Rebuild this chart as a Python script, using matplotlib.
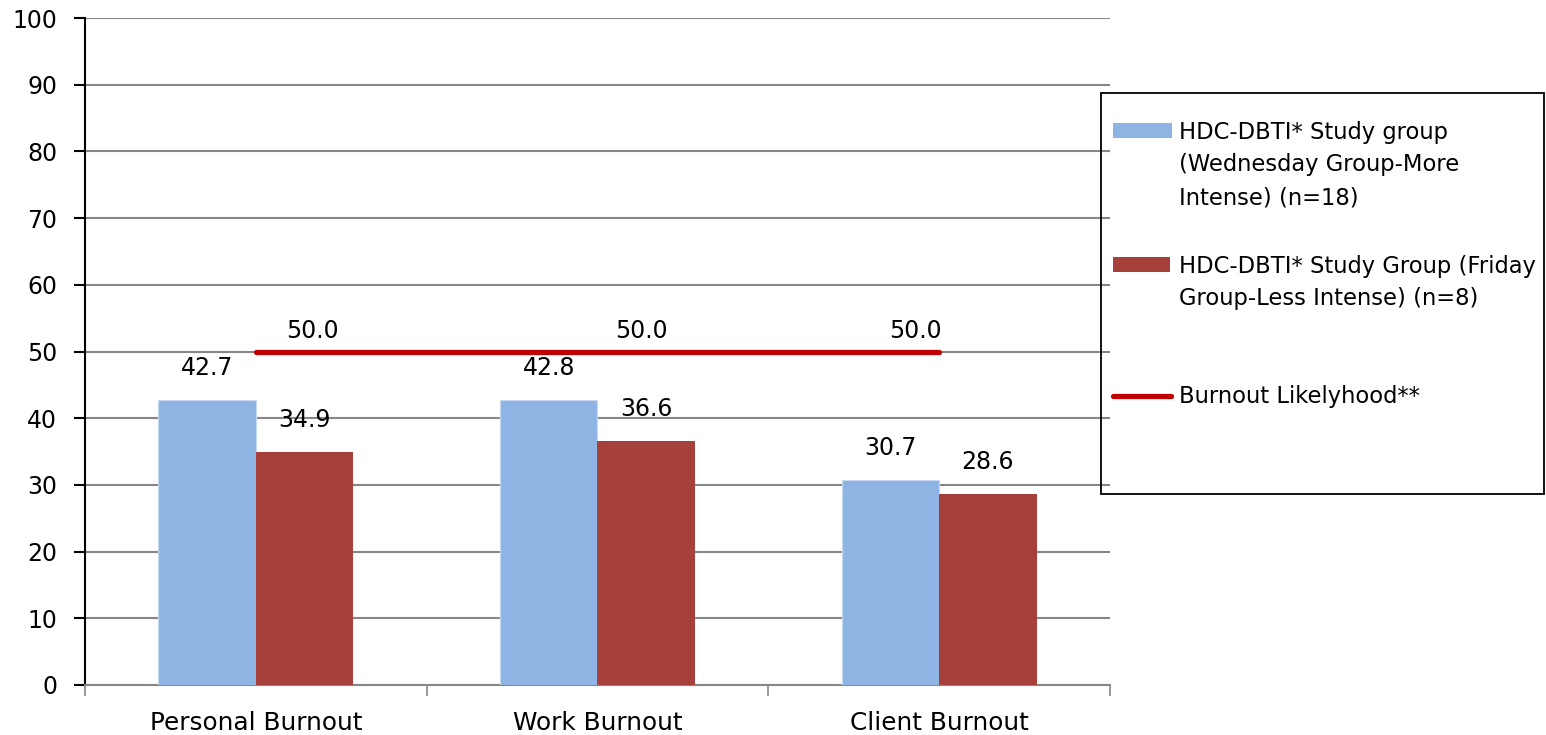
import numpy as np
import matplotlib
matplotlib.use('Agg')
from matplotlib import pyplot as plt
from matplotlib.patches import Rectangle
from matplotlib.lines import Line2D

categories = ['Personal Burnout', 'Work Burnout', 'Client Burnout']
wednesday = [42.7, 42.8, 30.7]
friday = [34.9, 36.6, 28.6]
likelihood = [50.0, 50.0, 50.0]
series_names = ['HDC-DBTI* Study group\n(Wednesday Group-More\nIntense) (n=18)',
                'HDC-DBTI* Study Group (Friday\nGroup-Less Intense) (n=8)',
                'Burnout Likelyhood**']
y_ticks = list(range(0, 101, 10))

BLUE = '#8EB4E3'
RED = '#A5403A'
LINE_RED = '#C00000'
GRID = '#878787'

plt.rcParams['font.family'] = ['DejaVu Sans']
fs = 17

fig = plt.figure(figsize=(15.46, 7.35), dpi=100)
ax = fig.add_axes([85 / 1546, 1 - 685 / 735, (1110 - 85) / 1546, (685 - 18) / 735])

x = np.arange(len(categories)) + 0.5
w = 0.285
b1 = ax.bar(x - w / 2, wednesday, w, color=BLUE, edgecolor='#C6D9F1', linewidth=0.8, zorder=3)
b2 = ax.bar(x + w / 2, friday, w, color=RED, zorder=3)
ax.plot(x, likelihood, color=LINE_RED, linewidth=3.8, solid_capstyle='round', zorder=4)

for rect, v in zip(list(b1) + list(b2), wednesday + friday):
    ax.annotate('%.1f' % v, (rect.get_x() + rect.get_width() / 2, v),
                xytext=(0, 23), textcoords='offset points', ha='center', va='center', fontsize=fs)

# labels of the line sit a bit off the points
line_dx = [0.165, 0.13, -0.07]
for xi, v, dx in zip(x, likelihood, line_dx):
    ax.annotate('%.1f' % v, (xi + dx, v), xytext=(0, 15), textcoords='offset points',
                ha='center', va='center', fontsize=fs)

ax.set_xlim(0, 3)
ax.set_ylim(0, 100)
ax.set_yticks(y_ticks)
ax.yaxis.grid(True, color=GRID, linewidth=1.5, zorder=0)
ax.set_axisbelow(True)
ax.set_xticks([0, 1, 2, 3])
ax.set_xticklabels([])
ax.set_xticks(x, minor=True)
ax.set_xticklabels(categories, minor=True, fontsize=17.8)
ax.tick_params(axis='x', which='minor', length=0, pad=19)
ax.tick_params(axis='x', which='major', length=8, width=1.2, color=GRID, direction='out')
ax.tick_params(axis='y', length=8, width=1.5, labelsize=fs, pad=12)

for s in ['top', 'right']:
    ax.spines[s].set_visible(False)
ax.spines['left'].set_linewidth(1.5)
ax.spines['bottom'].set_color(GRID)
ax.spines['bottom'].set_linewidth(1.5)

# legend box drawn by hand so the keys line up with the first text line
def fx(px):
    return px / 1546


def fy(py):
    return 1 - py / 735


fig.patches.append(Rectangle((fx(1101), fy(494)), fx(1544) - fx(1101), fy(93) - fy(494),
                             transform=fig.transFigure, fill=False, edgecolor='black', linewidth=1.3))
fig.patches.append(Rectangle((fx(1113), fy(138)), fx(1172) - fx(1113), fy(123) - fy(138),
                             transform=fig.transFigure, facecolor=BLUE, edgecolor='none'))
fig.patches.append(Rectangle((fx(1113), fy(272)), fx(1170) - fx(1113), fy(257) - fy(272),
                             transform=fig.transFigure, facecolor=RED, edgecolor='none'))
fig.lines.append(Line2D([fx(1113), fx(1171)], [fy(396), fy(396)], transform=fig.transFigure,
                        color=LINE_RED, linewidth=3.8, solid_capstyle='round'))
for name, top in zip(series_names, [131, 265, 396]):
    fig.text(fx(1179), fy(top - 10.5), name, ha='left', va='top', fontsize=16.3, linespacing=1.55)

fig.savefig('out.png', dpi=100)
